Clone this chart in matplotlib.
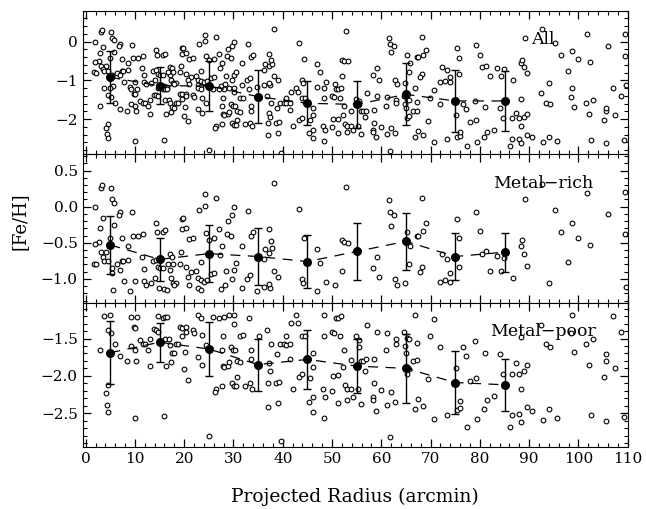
import numpy as np
import matplotlib
matplotlib.use("Agg")
import matplotlib.pyplot as plt
from matplotlib.ticker import MultipleLocator

plt.rcParams['font.family'] = ['DejaVu Serif']

# metal-rich stars (projected radius in arcmin, [Fe/H])
rich_x = [1.9, 3.1, 3.4, 5.1, 5.3, 5.7, 7.0, 6.7, 3.6, 9.4, 3.0, 5.7, 2.8, 1.8, 5.0, 7.3,
          3.1, 4.1, 3.6, 3.8, 4.6, 1.7, 2.1, 5.4, 5.3, 6.3, 7.3, 7.6, 8.5, 7.0, 8.5, 5.5,
          9.0, 7.7, 10.1, 9.7, 10.6, 11.6, 11.5, 11.9, 11.9, 12.2, 13.2, 14.3, 14.5, 15.7,
          16.1, 13.7, 14.2, 14.7, 15.1, 15.7, 17.2, 14.0, 14.9, 15.9, 16.6, 17.2, 17.5, 17.3,
          17.8, 18.4, 18.0, 16.8, 17.8, 19.2, 19.4, 19.5, 19.8, 19.5, 20.4, 20.9, 21.8, 20.4,
          21.4, 20.7, 20.9, 23.0, 24.2, 24.3, 26.4, 24.5, 25.0, 26.0, 23.4, 22.4, 22.8, 23.4,
          24.0, 24.7, 22.8, 23.4, 25.5, 26.0, 27.0, 27.6, 27.2, 27.4, 28.2, 28.4, 28.8, 29.8,
          30.1, 28.7, 29.4, 29.6, 30.1, 30.5, 31.8, 31.8, 33.0, 32.8, 33.4, 33.6, 34.0, 34.7,
          36.2, 37.4, 37.3, 36.2, 36.4, 37.2, 37.8, 37.6, 37.3, 38.2, 39.0, 38.2, 43.3, 44.3,
          43.9, 44.2, 46.9, 46.9, 47.5, 48.7, 50.6, 52.0, 52.4, 53.2, 52.0, 52.8,
          59.1, 58.3, 59.5, 61.5, 61.8, 62.6, 61.9, 62.8, 63.1, 64.9, 65.3, 65.8, 65.6, 67.2,
          67.4, 68.4, 68.2, 69.1, 68.2, 67.8, 71.9, 73.0, 73.9, 72.4, 73.4, 73.9, 75.3, 75.7,
          75.7, 79.3, 80.1, 80.4, 81.3, 82.0, 83.4, 84.3, 84.8, 86.8, 88.3, 88.6, 88.9, 89.5,
          89.2, 92.6, 94.1, 95.3, 96.4, 97.8, 98.6, 100.0, 101.8, 102.3, 106.0, 109.4, 109.4,
          109.7]
rich_y = [-0.01, 0.26, 0.30, 0.26, 0.10, 0.05, -0.07, -0.12, -0.15, -0.08, -0.30, -0.26, -0.49,
          -0.52, -0.43, -0.44, -0.63, -0.63, -0.70, -0.75, -0.75, -0.79, -0.80, -0.85, -0.92,
          -0.80, -0.75, -0.75, -0.74, -0.87, -0.55, -1.15, -1.17, -1.03, -1.03, -0.41, -0.41,
          -0.38, -0.69, -0.86, -1.03, -1.09, -1.06, -0.22, -0.35, -0.35, -0.32, -0.75, -0.74,
          -0.84, -0.85, -0.85, -0.87, -0.99, -1.12, -1.14, -1.16, -0.66, -0.69, -0.99, -1.06,
          -1.06, -1.09, -0.79, -0.79, -0.79, -0.63, -0.17, -0.16, -0.31, -0.29, -0.45, -0.43,
          -0.84, -0.90, -0.98, -1.09, -0.05, 0.01, 0.18, 0.12, -0.37, -0.46, -0.44, -0.76,
          -0.89, -0.99, -1.01, -1.04, -1.01, -1.13, -1.15, -0.93, -0.92, -0.31, -0.54, -0.67,
          -1.14, -1.09, -0.89, -0.20, -0.11, -0.01, -0.38, -0.41, -1.00, -0.87, -0.78, -1.12,
          -0.55, -0.06, -1.00, -0.95, -0.40, -0.35, -1.17, -1.11, -1.13, -1.07, -0.72, -0.58,
          -0.64, -0.57, -0.48, -0.31, -0.89, -0.98, 0.33, -0.03, -0.44, -1.00, -1.06, -1.17,
          -0.58, -0.78, -1.05, -1.08, -0.46, -0.49, -0.50, -0.89, 0.28,
          -0.69, -0.85, -0.98, 0.09, -0.07, -0.11, -0.27, -1.00, -1.08, -1.06, -0.35, -0.55,
          -0.79, -0.40, -0.40, -0.34, 0.12, -0.22, -0.84, -0.91, -1.05, -1.01, -1.05, -0.65,
          -0.73, -0.92, -0.17, -0.43, -0.84, -0.08, -0.34, -0.66, -0.62, -0.89, -0.68, -0.89,
          -0.71, -0.99, -0.55, -0.46, -0.65, -0.82, 0.10, 0.32, -1.06, -0.04, -0.35, -0.76,
          -0.23, -0.44, 0.19, -0.53, -0.10, 0.21, -0.38, -1.11]

# metal-poor stars
poor_x = [3.0, 3.7, 5.0, 4.6, 5.2, 6.0, 7.0, 4.6, 4.1, 4.4, 4.6, 8.4, 9.3, 10.5, 9.9, 10.0,
          9.3, 10.1, 10.3, 11.0, 11.7, 12.0, 12.7, 13.0, 13.1, 10.1, 13.8, 14.3, 14.7, 15.7,
          16.2, 16.6, 14.7, 15.9, 16.4, 17.3, 16.1, 16.9, 17.2, 17.6, 17.9, 18.3, 18.8, 19.2,
          19.5, 20.3, 20.3, 19.9, 20.8, 20.1, 19.5, 21.7, 21.9, 22.9, 23.4, 23.6, 22.9, 23.7,
          24.5, 25.1, 25.9, 27.0, 28.1, 29.1, 30.1, 30.1, 27.9, 27.6, 27.9, 28.0, 28.8, 29.0,
          29.4, 29.9, 30.4, 26.5, 26.3, 27.6, 29.6, 30.1, 30.7, 30.6, 30.7, 31.3, 31.4, 31.9,
          33.2, 32.4, 33.4, 33.8, 33.6, 33.5, 35.1, 36.9, 37.6, 37.2, 37.4, 37.0, 38.6, 39.2,
          37.1, 39.0, 38.8, 39.6, 39.5, 40.2, 40.6, 41.4, 40.6, 41.5, 41.7, 42.6, 43.1, 42.1,
          43.2, 43.9, 44.0, 44.6, 46.2, 46.1, 45.5, 45.3, 46.1, 46.1, 48.4, 48.4, 48.2, 48.5,
          48.4, 50.0, 49.9, 50.4, 51.6, 50.9, 51.2, 51.9, 50.2, 51.3, 51.2, 52.4, 52.2, 52.7,
          53.1, 53.8, 53.1, 54.2, 53.9, 54.9, 55.4, 55.5, 55.9, 56.3, 56.8, 56.7, 57.1, 55.3,
          55.9, 58.5, 59.2, 58.6, 58.3, 58.3, 59.0, 59.9, 61.2, 61.0, 61.9, 61.2, 62.7, 61.8,
          62.9, 62.9, 64.7, 64.9, 65.3, 65.7, 65.1, 65.3, 65.7, 66.4, 67.3, 67.3, 66.8, 66.8,
          67.4, 68.4, 69.4, 69.9, 70.7, 70.6, 72.0, 73.3, 75.2, 75.3, 75.9, 75.9, 76.5, 77.1,
          77.4, 77.9, 79.1, 79.3, 79.5, 80.8, 81.1, 81.5, 82.8, 84.0, 84.7, 86.5, 87.4, 88.0,
          88.4, 88.4, 89.0, 89.6, 86.5, 88.0, 88.4, 86.1, 89.6, 90.5, 92.8, 92.4, 93.5, 94.3,
          94.0, 95.6, 98.6, 98.4, 99.2, 101.5, 102.2, 103.0, 102.6, 105.1, 105.5, 105.6, 105.5,
          107.0, 107.5, 108.7, 109.3]
poor_y = [-1.65, -1.20, -1.19, -1.38, -1.42, -1.58, -1.74, -2.12, -2.23, -2.39, -2.48, -1.80,
          -1.21, -1.21, -1.34, -1.36, -1.60, -1.66, -1.80, -1.52, -1.57, -1.57, -1.66, -1.51,
          -1.87, -2.56, -1.37, -1.38, -1.20, -1.22, -1.21, -1.21, -1.41, -2.54, -1.87, -1.81,
          -1.51, -1.51, -1.59, -1.69, -1.70, -1.57, -1.57, -1.34, -1.36, -1.34, -1.41, -1.91,
          -2.06, -1.68, -1.47, -1.38, -1.43, -1.19, -1.23, -1.45, -1.75, -1.85, -1.59, -2.80,
          -1.21, -1.22, -1.21, -1.19, -1.19, -1.30, -1.46, -1.65, -1.87, -1.88, -1.87, -1.81,
          -1.61, -1.65, -1.65, -2.17, -2.22, -2.13, -2.09, -2.14, -2.02, -2.14, -1.80, -1.81,
          -1.46, -1.45, -1.23, -2.13, -2.10, -2.17, -1.66, -1.78, -1.46, -1.39, -1.57, -1.83,
          -1.94, -2.09, -2.09, -2.08, -2.42, -2.37, -1.71, -2.88, -1.58, -1.57, -1.59, -1.57,
          -1.46, -1.77, -1.29, -1.19, -1.29, -2.17, -2.02, -1.98, -1.46, -1.46, -1.70, -1.88,
          -2.03, -2.35, -2.29, -2.49, -1.19, -1.46, -2.17, -2.29, -2.56, -2.21, -1.41, -1.42,
          -1.46, -1.23, -1.23, -1.20, -2.00, -1.99, -2.37, -1.65, -1.88, -2.12, -2.18, -2.18,
          -2.33, -2.28, -1.79, -1.47, -1.52, -1.61, -1.80, -1.80, -1.78, -1.94, -1.32, -2.18,
          -2.38, -1.77, -1.41, -2.10, -2.28, -2.32, -2.47, -2.19, -1.43, -1.65, -2.22, -2.39,
          -2.35, -2.82, -1.50, -1.57, -1.41, -1.60, -1.49, -1.50, -1.70, -1.97, -1.91, -1.80,
          -1.79, -1.56, -1.19, -2.45, -2.31, -2.41, -2.04, -1.46, -1.24, -2.58, -1.62, -2.52,
          -1.90, -2.46, -2.43, -2.34, -1.62, -1.74, -2.69, -2.07, -1.54, -2.03, -2.58, -2.45,
          -1.69, -2.33, -2.27, -1.71, -1.97, -1.97, -1.83, -1.97, -1.48, -2.17, -1.94, -1.86,
          -2.52, -2.51, -2.62, -2.69, -2.42, -2.47, -2.59, -1.32, -1.58, -1.62, -2.45, -2.57,
          -1.19, -1.43, -1.68, -1.57, -1.86, -1.51, -2.53, -2.01, -1.80, -1.71, -2.61, -1.20,
          -1.89, -1.41, -2.55]

# the full sample is both groups together
all_x = rich_x + poor_x
all_y = rich_y + poor_y

# binned means with dispersions
bin_x = [5, 15, 25, 35, 45, 55, 65, 75, 85]
all_mean = [-0.92, -1.14, -1.14, -1.42, -1.59, -1.62, -1.36, -1.53, -1.53]
all_err = [0.67, 0.48, 0.65, 0.68, 0.57, 0.60, 0.80, 0.79, 0.78]
rich_mean = [-0.53, -0.73, -0.65, -0.69, -0.76, -0.62, -0.48, -0.69, -0.63]
rich_err = [0.40, 0.30, 0.40, 0.39, 0.37, 0.39, 0.39, 0.33, 0.27]
poor_mean = [-1.69, -1.55, -1.64, -1.85, -1.78, -1.87, -1.90, -2.09, -2.12]
poor_err = [0.42, 0.26, 0.36, 0.35, 0.39, 0.36, 0.46, 0.42, 0.35]

fig = plt.figure(figsize=(6.46, 5.09), dpi=100)
left, width = 0.128, 0.8437
ax1 = fig.add_axes([left, 0.6974, width, 0.2816])
ax2 = fig.add_axes([left, 0.4053, width, 0.2921])
ax3 = fig.add_axes([left, 0.1224, width, 0.2829])

panels = [
    (ax1, all_x, all_y, all_mean, all_err, "All", (-2.9, 0.8), 1, 0.2),
    (ax2, rich_x, rich_y, rich_mean, rich_err, "Metal\u2212rich", (-1.33, 0.73), 0.5, 0.1),
    (ax3, poor_x, poor_y, poor_mean, poor_err, "Metal\u2212poor", (-2.95, -1.02), 0.5, 0.1),
]

for ax, xs, ys, m, e, name, ylim, maj, mnr in panels:
    ax.plot(xs, ys, 'o', ms=3.4, mfc='white', mec='black', mew=0.8, ls='none')
    ax.plot(bin_x, m, color='black', lw=0.9, dashes=(8, 6))
    ax.errorbar(bin_x, m, yerr=e, fmt='o', color='black', ms=5.5,
                ecolor='black', elinewidth=1.0, capsize=3, capthick=1.0)
    ax.set_xlim(-0.6, 110)
    ax.set_ylim(*ylim)
    ax.xaxis.set_major_locator(MultipleLocator(10))
    ax.xaxis.set_minor_locator(MultipleLocator(2))
    ax.yaxis.set_major_locator(MultipleLocator(maj))
    ax.yaxis.set_minor_locator(MultipleLocator(mnr))
    ax.tick_params(which='both', direction='in', top=True, right=True, labelsize=11)
    ax.tick_params(which='major', length=6, width=0.9)
    ax.tick_params(which='minor', length=3, width=0.8)
    ax.text(0.845, 0.8, name, transform=ax.transAxes, ha='center', va='center', fontsize=12.5)
    if ax is not ax3:
        ax.tick_params(labelbottom=False)

ax3.set_xlabel("Projected Radius (arcmin)", fontsize=13.5, labelpad=16)
fig.text(0.03, 0.565, "[Fe/H]", rotation=90, ha='center', va='center', fontsize=13)

fig.savefig("out.png", dpi=100)
